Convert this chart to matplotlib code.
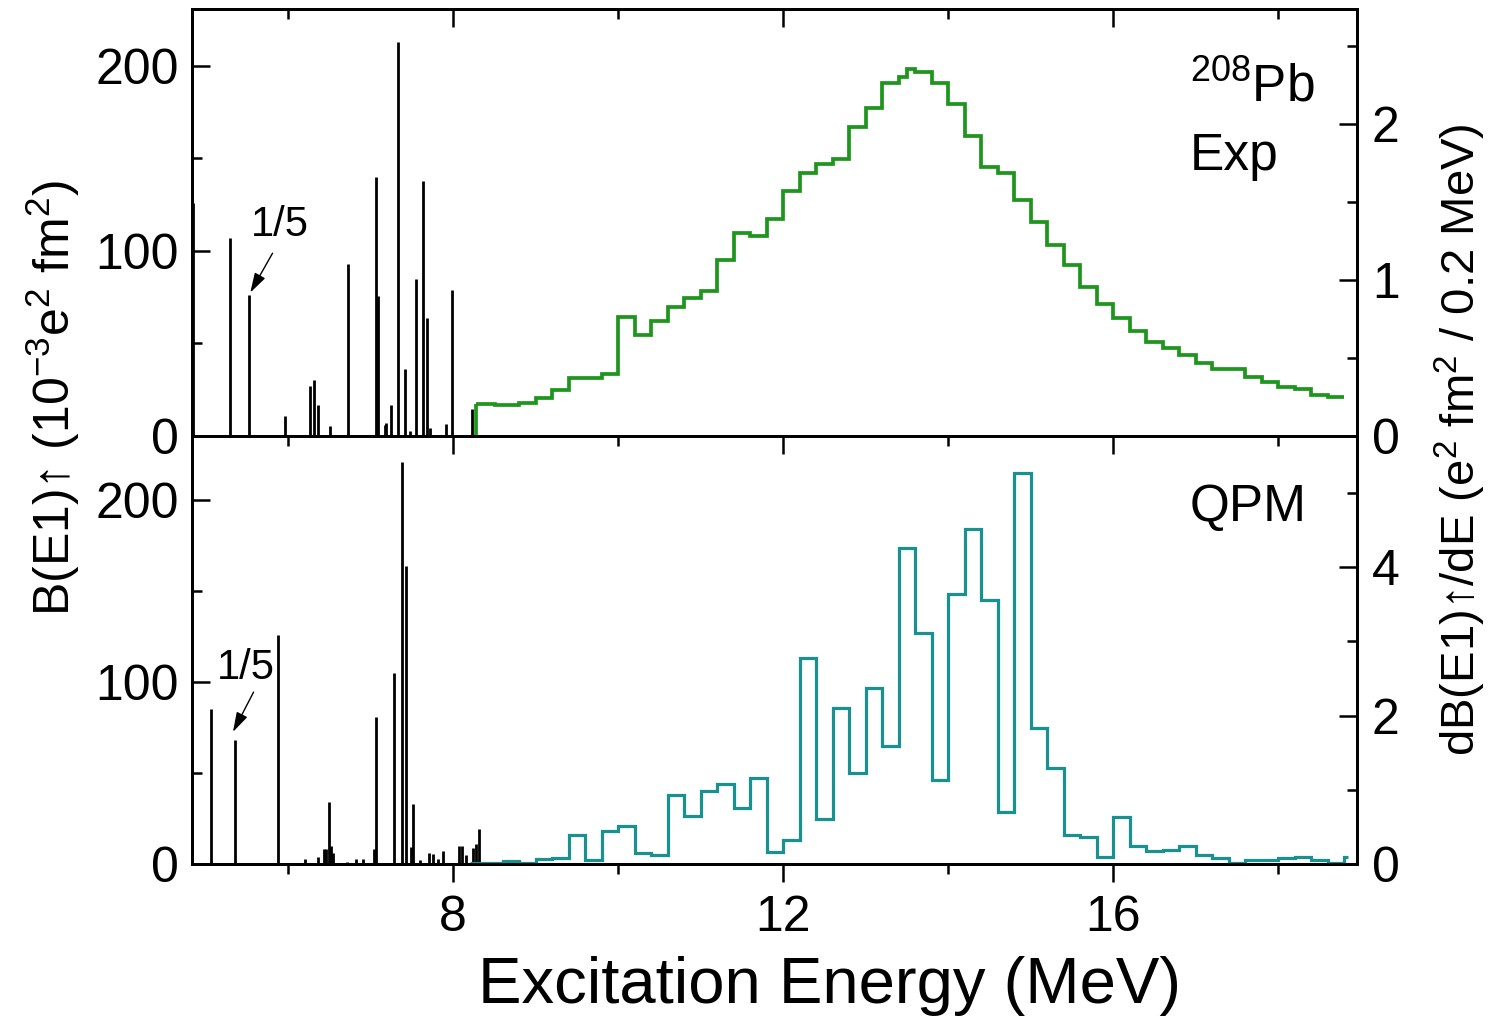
import numpy as np
import matplotlib
matplotlib.use("Agg")
import matplotlib.pyplot as plt
from matplotlib.ticker import MultipleLocator

plt.rcParams['font.family'] = ['Liberation Sans', 'DejaVu Sans']
plt.rcParams['mathtext.fontset'] = 'custom'
plt.rcParams['mathtext.rm'] = 'Liberation Sans'
plt.rcParams['mathtext.it'] = 'Liberation Sans:italic'
plt.rcParams['mathtext.bf'] = 'Liberation Sans:bold'
plt.rcParams['mathtext.default'] = 'regular'

# ---------------- data ----------------
# Experiment: discrete B(E1) strengths (10^-3 e^2 fm^2) below threshold
exp_E = [4.84, 5.30, 5.52, 5.96, 6.26, 6.31, 6.36, 6.51, 6.72, 7.06, 7.09, 7.17, 7.19,
         7.24, 7.33, 7.41, 7.47, 7.55, 7.63, 7.68, 7.72, 7.91, 7.99, 8.23]
exp_B = [126, 107, 76, 11, 27, 30, 16.6, 5.4, 93, 140, 75.7, 6, 7,
         16.8, 213, 36, 2.7, 84.7, 138, 64, 4.5, 6.3, 79, 14.4]

# Experiment: dB(E1)/dE histogram (e^2 fm^2 / 0.2 MeV)
exp_edges = [8.28, 8.5, 8.8, 9.0, 9.2, 9.4, 9.8,
             10.0, 10.2, 10.4, 10.6, 10.8, 11.0, 11.2, 11.4, 11.6, 11.8, 12.0, 12.2,
             12.4, 12.6, 12.8, 13.0, 13.2, 13.4, 13.5,
             13.6, 13.8, 14.0, 14.2, 14.4, 14.6, 14.8, 15.0, 15.2, 15.4, 15.6, 15.8,
             16.0, 16.2, 16.4, 16.6, 16.8, 17.0, 17.2,
             17.6, 17.8, 18.0, 18.2, 18.4, 18.6, 18.8]
exp_dBdE = [0.205, 0.197, 0.213, 0.246, 0.295, 0.37, 0.397,
            0.765, 0.647, 0.737, 0.829, 0.883, 0.932, 1.128, 1.299, 1.284, 1.389,
            1.571, 1.688, 1.744, 1.774, 1.983, 2.104, 2.261,
            2.30, 2.353,
            2.33, 2.26, 2.128, 1.925, 1.726, 1.688, 1.513, 1.374, 1.224, 1.096,
            0.957, 0.846, 0.758, 0.673, 0.604, 0.566, 0.517, 0.466,
            0.429,
            0.380, 0.348, 0.316, 0.299, 0.263, 0.252]

# QPM: discrete B(E1) strengths
qpm_E = [5.06, 5.36, 5.88, 6.20, 6.36, 6.43, 6.46, 6.50, 6.52, 6.54, 6.71, 6.82, 6.91,
         7.04, 7.06, 7.28, 7.38, 7.43, 7.49, 7.51, 7.60, 7.71, 7.76, 7.82, 7.88,
         8.07, 8.11, 8.15, 8.24, 8.28, 8.31]
qpm_B = [85, 68, 126, 2.6, 4, 8, 8, 34, 10, 6, 1, 2.6, 3,
         8, 81, 105, 221, 164, 9.5, 33, 2, 6, 5.5, 3, 7,
         10, 10, 5, 9, 11, 19.5]

# QPM: dB(E1)/dE histogram, 0.2 MeV bins from 8.2 to 18.8 MeV
qpm_edges = [8.2, 8.4, 8.6, 8.8, 9.0, 9.2, 9.4, 9.6, 9.8, 10.0, 10.2, 10.4, 10.6, 10.8,
             11.0, 11.2, 11.4, 11.6, 11.8, 12.0, 12.2, 12.4, 12.6, 12.8, 13.0, 13.2,
             13.4, 13.6, 13.8, 14.0, 14.2, 14.4, 14.6, 14.8, 15.0, 15.2, 15.4, 15.6,
             15.8, 16.0, 16.2, 16.4, 16.6, 16.8, 17.0, 17.2, 17.4, 17.6, 17.8, 18.0,
             18.2, 18.4, 18.6, 18.8, 18.84]
qpm_dBdE = [0.01, 0.02, 0.045, 0.01, 0.067, 0.08, 0.39, 0.054, 0.447, 0.515, 0.143,
            0.12, 0.927, 0.64, 0.985, 1.083, 0.752, 1.164, 0.156, 0.327, 2.777, 0.605,
            2.105, 1.223, 2.374, 1.59, 4.255, 3.11, 1.133, 3.64, 4.516, 3.55, 0.70,
            5.27, 1.836, 1.30, 0.39, 0.36, 0.098, 0.636, 0.237, 0.179, 0.188, 0.237,
            0.125, 0.08, 0.02, 0.054, 0.054, 0.08, 0.098, 0.06, 0.02, 0.1]

# "1/5" annotations: label position, arrow tail, arrow tip (E, B)
exp_note = dict(text=(5.90, 114), tail=(5.81, 98.8), tip=(5.54, 77.5))
qpm_note = dict(text=(5.49, 108), tail=(5.58, 94.5), tip=(5.33, 72.6))

green = '#1e961e'
teal = '#1a9191'

# ---------------- figure ----------------
W, H = 1491, 1021
fig = plt.figure(figsize=(W / 100, H / 100), dpi=100)

L = 191.7 / W
Wd = (1356.7 - 191.7) / W
ax1 = fig.add_axes([L, 1 - 436 / H, Wd, 426.7 / H])
ax2 = fig.add_axes([L, 1 - 864 / H, Wd, 428 / H], sharex=ax1)

TICK_FS = 36
SPINE_LW = 2.0

def style_x(ax):
    for s in ax.spines.values():
        s.set_linewidth(SPINE_LW)
    ax.xaxis.set_major_locator(MultipleLocator(4))
    ax.xaxis.set_minor_locator(MultipleLocator(2))
    ax.tick_params(axis='x', which='both', direction='out', top=False, bottom=True,
                   width=1.8, labelsize=TICK_FS, pad=9)
    ax.tick_params(axis='x', which='major', length=13)
    ax.tick_params(axis='x', which='minor', length=7)

def style_y(ax, side):
    ax.tick_params(axis='y', which='both', direction='in', width=1.8,
                   labelsize=TICK_FS, pad=9 if side == 'left' else 11,
                   left=(side == 'left'), right=(side == 'right'),
                   labelleft=(side == 'left'), labelright=(side == 'right'))
    ax.tick_params(axis='y', which='major', length=13)
    ax.tick_params(axis='y', which='minor', length=7)

for ax in (ax1, ax2):
    style_x(ax)
    style_y(ax, 'left')
    ax.yaxis.set_major_locator(MultipleLocator(100))
    ax.yaxis.set_minor_locator(MultipleLocator(50))
    sec = ax.secondary_xaxis('top')
    sec.xaxis.set_major_locator(MultipleLocator(4))
    sec.xaxis.set_minor_locator(MultipleLocator(2))
    sec.tick_params(axis='x', which='both', direction='in', width=1.8, labeltop=False)
    sec.tick_params(axis='x', which='major', length=13)
    sec.tick_params(axis='x', which='minor', length=7)
    sec.spines['top'].set_linewidth(SPINE_LW)

ax1.tick_params(axis='x', labelbottom=False)
ax1.set_xlim(4.83, 18.95)
ax1.set_ylim(0, 230.6)
ax2.set_ylim(0, 235.3)

# sticks
ax1.vlines(exp_E, 0, exp_B, color='black', lw=2.0)
ax2.vlines(qpm_E, 0, qpm_B, color='black', lw=2.0)

# twin axes for the histograms
t1 = ax1.twinx()
t2 = ax2.twinx()
for t in (t1, t2):
    for s in t.spines.values():
        s.set_linewidth(SPINE_LW)
    style_y(t, 'right')
t1.set_ylim(0, 2.735)
t1.yaxis.set_major_locator(MultipleLocator(1))
t1.yaxis.set_minor_locator(MultipleLocator(0.5))
t2.set_ylim(0, 5.766)
t2.yaxis.set_major_locator(MultipleLocator(2))
t2.yaxis.set_minor_locator(MultipleLocator(1))

t1.stairs(exp_dBdE, exp_edges, baseline=None, color=green, lw=2.7)
t1.vlines(exp_edges[0], 0, exp_dBdE[0], color=green, lw=2.7)
t2.stairs(qpm_dBdE, qpm_edges, baseline=None, color=teal, lw=2.3)

# annotations
for ax, note in ((ax1, exp_note), (ax2, qpm_note)):
    ax.text(*note['text'], '1/5', fontsize=30, ha='center', va='center')
    ax.annotate('', xy=note['tip'], xytext=note['tail'],
                arrowprops=dict(arrowstyle='-|>,head_length=1.0,head_width=0.3',
                                color='black', lw=1.0, mutation_scale=12,
                                shrinkA=0, shrinkB=0))

ax1.text(0.857, 0.783, r'$^{208}$Pb', transform=ax1.transAxes, fontsize=37,
         ha='left', va='baseline')
ax1.text(0.857, 0.623, 'Exp', transform=ax1.transAxes, fontsize=37,
         ha='left', va='baseline')
ax2.text(0.857, 0.802, 'QPM', transform=ax2.transAxes, fontsize=37,
         ha='left', va='baseline')

# labels
ax2.set_xlabel('Excitation Energy (MeV)', fontsize=47)
ax2.xaxis.set_label_coords((830 - 191.7) / 1165, -0.215)
fig.text(53 / W, 1 - 398 / H, 'B(E1)↑ (10$^{-3}$e$^{2}$ fm$^{2}$)', rotation=90,
         fontsize=36, ha='center', va='center')
fig.text(1460 / W, 1 - 440 / H, 'dB(E1)↑/dE (e$^{2}$ fm$^{2}$ / 0.2 MeV)', rotation=90,
         fontsize=34, ha='center', va='center')

fig.savefig('out.png', dpi=100)
